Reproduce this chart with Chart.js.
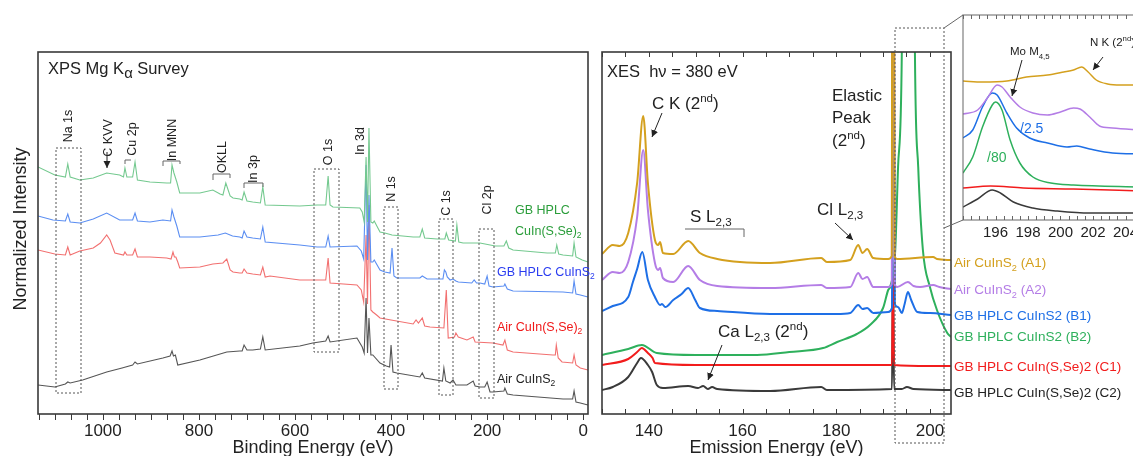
<!DOCTYPE html>
<html>
<head>
<meta charset="utf-8">
<script src="https://cdn.jsdelivr.net/npm/chart.js@4.4.0/dist/chart.umd.min.js"></script>
<style>
html, body { margin: 0; padding: 0; background: #fff; }
#fig { position: relative; width: 1133px; height: 456px; overflow: hidden;
       font-family: "Liberation Sans", Arial, sans-serif; color: #222; }
.pane { position: absolute; }
.t { position: absolute; white-space: nowrap; line-height: 1; transform: translateY(-50%); }
.v { position: absolute; white-space: nowrap; line-height: 1; font-size: 12.5px;
     transform: translate(-50%, -50%) rotate(-90deg); }
sub, sup { font-size: 0.68em; line-height: 0; }
svg { position: absolute; left: 0; top: 0; }
</style>
</head>
<body>
<div id="fig">
  <div class="pane" style="left:0;top:0;width:600px;height:456px"><canvas id="xps"></canvas></div>
  <div class="pane" style="left:595px;top:0;width:365px;height:456px"><canvas id="xes"></canvas></div>
  <div class="pane" style="left:950px;top:0;width:200px;height:250px"><canvas id="inset"></canvas></div>

  <svg width="1133" height="456">
    <defs>
      <marker id="ah" markerWidth="8" markerHeight="8" refX="7" refY="4" orient="auto" markerUnits="userSpaceOnUse">
        <path d="M0,0.5 L7,4 L0,7.5 z" fill="#222"/>
      </marker>
    </defs>
    <g fill="none" stroke="#555" stroke-width="1" stroke-dasharray="2,2">
      <rect x="56" y="148" width="25" height="245"/>
      <rect x="314" y="169" width="25" height="183"/>
      <rect x="384" y="207" width="14" height="182"/>
      <rect x="439" y="219" width="14" height="176"/>
      <rect x="479" y="229" width="15" height="169"/>
      <rect x="895" y="28" width="49" height="415"/>
    </g>
    <g fill="none" stroke="#666" stroke-width="1">
      <path d="M125,164V160H131"/>
      <path d="M163,166V161H180V164"/>
      <path d="M213,180V174H230V178"/>
      <path d="M244,188V183H263V187"/>
      <path d="M685,229H744V237"/>
      <line x1="944" y1="28" x2="963" y2="15"/>
      <line x1="944" y1="228" x2="963" y2="220"/>
    </g>
    <g stroke="#222" stroke-width="1" marker-end="url(#ah)">
      <line x1="107" y1="152" x2="107" y2="168"/>
      <line x1="662" y1="113" x2="652" y2="137"/>
      <line x1="835" y1="223" x2="853" y2="240"/>
      <line x1="722" y1="345" x2="708" y2="380"/>
      <line x1="1022" y1="60" x2="1012" y2="96"/>
      <line x1="1103" y1="57" x2="1093" y2="70"/>
    </g>
  </svg>

  <!-- XPS panel text -->
  <div class="t" style="left:48px;top:68px;font-size:16.5px">XPS Mg K<sub style="font-size:0.9em">α</sub> Survey</div>
  <div class="v" style="left:20px;top:229px;font-size:18px">Normalized Intensity</div>
  <div class="v" style="left:68px;top:126px">Na 1s</div>
  <div class="v" style="left:108px;top:138px">C KVV</div>
  <div class="v" style="left:132px;top:139px">Cu 2p</div>
  <div class="v" style="left:172px;top:140px">In MNN</div>
  <div class="v" style="left:222px;top:157px">OKLL</div>
  <div class="v" style="left:253px;top:169px">In 3p</div>
  <div class="v" style="left:328px;top:152px">O 1s</div>
  <div class="v" style="left:360px;top:141px">In 3d</div>
  <div class="v" style="left:391px;top:189px">N 1s</div>
  <div class="v" style="left:446px;top:203px">C 1s</div>
  <div class="v" style="left:487px;top:200px">Cl 2p</div>
  <div class="t" style="left:515px;top:210px;font-size:12.5px;color:#2a9d3a">GB HPLC</div>
  <div class="t" style="left:515px;top:231px;font-size:12.5px;color:#2a9d3a">CuIn(S,Se)<sub>2</sub></div>
  <div class="t" style="left:497px;top:272px;font-size:12.5px;color:#2a3cf0">GB HPLC CuInS<sub>2</sub></div>
  <div class="t" style="left:497px;top:327px;font-size:12.5px;color:#f01818">Air CuIn(S,Se)<sub>2</sub></div>
  <div class="t" style="left:497px;top:379px;font-size:12.5px;color:#222">Air CuInS<sub>2</sub></div>

  <!-- XES panel text -->
  <div class="t" style="left:607px;top:71px;font-size:16.5px">XES&nbsp; hν = 380 eV</div>
  <div class="t" style="left:652px;top:103px;font-size:17px">C K (2<sup>nd</sup>)</div>
  <div class="t" style="left:832px;top:95px;font-size:17px">Elastic</div>
  <div class="t" style="left:832px;top:117px;font-size:17px">Peak</div>
  <div class="t" style="left:832px;top:140px;font-size:17px">(2<sup>nd</sup>)</div>
  <div class="t" style="left:690px;top:216px;font-size:17px">S L<sub>2,3</sub></div>
  <div class="t" style="left:817px;top:209px;font-size:17px">Cl L<sub>2,3</sub></div>
  <div class="t" style="left:718px;top:331px;font-size:17px">Ca L<sub>2,3</sub> (2<sup>nd</sup>)</div>
  <div class="t" style="left:954px;top:263px;font-size:13.5px;color:#d4a01e">Air CuInS<sub>2</sub> (A1)</div>
  <div class="t" style="left:954px;top:290px;font-size:13.5px;color:#b47de6">Air CuInS<sub>2</sub> (A2)</div>
  <div class="t" style="left:954px;top:316px;font-size:13.5px;color:#1e6fe6">GB HPLC CuInS2 (B1)</div>
  <div class="t" style="left:954px;top:337px;font-size:13.5px;color:#2eb05c">GB HPLC CuInS2 (B2)</div>
  <div class="t" style="left:954px;top:367px;font-size:13.5px;color:#f21c1c">GB HPLC CuIn(S,Se)2 (C1)</div>
  <div class="t" style="left:954px;top:393px;font-size:13.5px;color:#222">GB HPLC CuIn(S,Se)2 (C2)</div>

  <!-- inset text -->
  <div class="t" style="left:1010px;top:52px;font-size:11.5px">Mo M<sub>4,5</sub></div>
  <div class="t" style="left:1090px;top:43px;font-size:11.5px">N K (2<sup>nd</sup>)</div>
  <div class="t" style="left:1020px;top:128px;font-size:14px;color:#1e6fe6">/2.5</div>
  <div class="t" style="left:987px;top:157px;font-size:14px;color:#2eb05c">/80</div>
</div>

<script>
// ---- XPS survey: [binding energy eV, normalized intensity (offset)] ----
const xpsGreen = [[1135,247],[1100,239],[1078,237],[1073,250],[1068,237],[1048,234],[1020,236],[992,241],[965,239],[957,237],[954,246],[950,237],[938,237],[933,252],[928,234],[902,232],[867,231],[859,231],[856,249],[852,241],[846,232],[840,221],[798,221],[771,224],[756,220],[750,219],[744,231],[735,218],[729,216],[715,215],[710,214],[706,222],[700,213],[688,212],[672,211],[667,227],[662,209],[590,208],[554,209],[536,209],[531,238],[527,209],[521,207],[465,206],[460,202],[456,192],[452,257],[449,192],[446,286],[442,192],[438,191],[435,193],[423,182],[413,181],[398,179],[354,177],[340,177],[335,185],[330,176],[304,175],[288,175],[285,181],[280,174],[266,173],[263,189],[259,172],[250,171],[215,171],[183,168],[165,168],[160,173],[155,166],[146,164],[75,161],[58,161],[55,169],[51,160],[42,159],[22,158],[19,171],[15,157],[2,154],[-10,152]];
const xpsBlue = [[1135,198],[1104,194],[1078,193],[1073,200],[1068,192],[1048,191],[1020,195],[992,201],[965,194],[938,194],[933,201],[928,193],[902,192],[875,194],[859,193],[856,204],[852,197],[846,188],[840,177],[798,177],[760,179],[745,181],[730,178],[715,177],[710,176],[706,183],[700,177],[688,176],[672,175],[667,187],[662,172],[590,169],[554,167],[536,167],[531,178],[527,167],[471,168],[462,163],[457,155],[452,249],[449,154],[446,219],[442,152],[438,152],[435,154],[423,144],[413,142],[402,141],[398,166],[394,138],[388,136],[340,136],[335,138],[325,135],[292,135],[289,144],[286,142],[283,137],[277,134],[271,135],[265,133],[260,132],[232,131],[227,134],[222,131],[215,131],[205,130],[200,138],[196,128],[188,127],[165,128],[163,130],[158,125],[146,123],[42,122],[22,121],[19,133],[15,120],[6,119],[-10,117]];
const xpsRed = [[1135,164],[1100,160],[1078,159],[1073,167],[1068,159],[1048,163],[1020,166],[1005,171],[992,179],[985,174],[975,161],[957,159],[954,162],[950,159],[938,159],[933,165],[928,157],[902,157],[867,156],[858,155],[854,162],[851,157],[848,157],[844,152],[840,146],[798,147],[771,150],[750,151],[742,155],[735,144],[729,142],[715,141],[710,141],[706,145],[700,141],[688,140],[672,139],[667,147],[662,137],[652,138],[590,134],[563,134],[536,134],[531,156],[527,131],[471,129],[462,124],[457,112],[452,179],[449,110],[446,209],[442,104],[438,102],[430,99],[423,96],[354,90],[348,94],[343,91],[335,96],[330,88],[319,87],[290,86],[285,124],[281,76],[268,77],[265,81],[260,77],[242,74],[229,77],[225,72],[188,71],[167,69],[163,74],[158,64],[146,62],[63,59],[58,59],[56,69],[52,56],[44,52],[22,51],[19,59],[15,49],[6,46],[-10,44]];
const xpsBlack = [[1135,29],[1100,27],[1078,30],[1073,32],[1068,31],[1042,34],[992,42],[960,46],[938,49],[933,52],[928,50],[875,56],[860,58],[856,63],[853,58],[849,59],[844,49],[798,54],[742,62],[715,63],[710,63],[706,69],[700,64],[688,64],[672,65],[667,77],[662,64],[590,68],[563,71],[536,73],[531,78],[527,72],[471,76],[460,67],[456,61],[452,116],[449,61],[446,96],[442,59],[438,59],[423,51],[410,48],[403,47],[400,69],[396,42],[388,41],[340,37],[335,41],[330,36],[293,33],[290,46],[286,33],[277,31],[271,34],[265,29],[242,29],[229,33],[225,28],[215,27],[205,27],[200,32],[194,22],[188,22],[165,23],[163,26],[158,20],[146,19],[42,15],[22,15],[19,23],[15,12],[6,11],[-10,9]];
const xpsTickLabels = [1000, 800, 600, 400, 200, 0];

// ---- XES: [emission energy eV, intensity (offset)] ----
const xesA1 = [[130,160],[132.3,169],[133.8,168],[135.6,181],[137.5,231],[138.8,298],[139.8,231],[141.3,174],[142.0,169],[142.4,172],[143.0,161],[145.2,160],[148.4,173],[150.9,161],[154.6,155],[165.9,151],[176.8,156],[178,152],[183,154],[184.7,169],[185.6,161],[186.6,165],[187.9,156],[191.1,155],[191.85,158],[192.0,600],[192.3,600],[192.45,158],[193,155],[200.7,157],[201.5,155],[204.5,154]];
const xesA2 = [[130,134],[132.3,142],[133.8,141],[135.6,152],[137.5,197],[138.8,264],[139.8,204],[141.3,151],[142.0,144],[142.4,146],[143.0,136],[145.2,132],[148.4,148],[150.9,134],[154.6,128],[165.9,126],[176.8,129],[178,126],[183,127],[184.7,141],[185.6,135],[186.6,137],[187.9,127],[191.1,127],[191.85,130],[192.0,600],[192.3,600],[192.45,130],[193,127],[195.3,132],[196.5,128],[197.9,127],[200.7,129],[202,127],[204.5,125]];
const xesB1 = [[130,103],[132.3,108],[135.6,117],[136.6,132],[137.5,145],[138.6,162],[139.8,134],[141.3,117],[142.4,109],[142.8,110],[143.5,107],[145.2,114],[147,120],[148.4,126],[149.9,114],[150.9,106],[154.6,103],[165.9,100],[180,100],[183,101],[184.7,109],[185.6,105],[186.6,106],[187.9,101],[191.1,102],[191.9,106],[192.05,400],[192.3,400],[192.5,110],[193.2,107],[194.0,101],[194.6,110],[195.3,122],[196,114],[197.3,102],[200,101],[204.5,99]];
const xesB2 = [[130,59],[135.6,65],[138.5,69],[141.7,61],[150,59],[163.1,59],[170,62],[177.2,66],[180.2,72],[184.4,80],[187.2,89],[190.0,106],[191.1,124],[191.5,127],[192.6,164],[193.2,247],[194.0,361],[195.4,1500],[196.8,361],[197.5,247],[198.5,164],[200.0,127],[201.5,104],[203.7,81],[204.5,77]];
const xesC1 = [[130,49],[135.6,55],[137.5,62],[138.5,66],[139.8,61],[140.8,56],[141.3,51],[150,49],[165.9,49],[180,49],[191.9,49],[192.1,139],[192.35,49],[200,48],[204.5,48]];
const xesC2 = [[130,24],[132.3,27],[135.6,37],[137.5,51],[138.3,56],[139.8,49],[140.7,42],[141.7,29],[143.0,26],[148.4,28],[150.5,26],[151.6,28],[152.6,25],[153.5,27],[154.6,25],[165.9,23],[176.8,27],[178,24],[191.9,25],[192.1,141],[192.35,25],[194,25],[195.1,27],[196.5,25],[204.5,24]];
const xesTickLabels = [140, 160, 180, 200];

// ---- inset (194-205 eV, B1 /2.5, B2 /80) ----
const insetA1 = [[194.0,139],[195.2,138],[196.7,139],[197.9,143],[199.2,145],[200.2,148],[200.8,150],[201.3,153],[201.7,148],[202.2,140],[202.9,136],[203.7,135],[205,135]];
const insetA2 = [[194.0,106],[194.9,110],[195.5,122],[196.1,135],[196.4,133],[196.9,123],[197.5,113],[198.3,107],[199.2,105],[200.0,108],[200.8,112],[201.2,111],[201.8,103],[202.4,94],[203.2,92],[205,90]];
const insetB1 = [[194.0,82],[194.6,90],[195.2,113],[195.8,127],[196.1,125],[196.7,107],[197.3,92],[198.1,82],[199.2,77],[200.4,73],[201.0,74],[201.8,71],[203.2,67],[205,66]];
const insetB2 = [[194.0,47],[194.6,63],[195.2,93],[195.8,115],[196.0,118],[196.4,110],[196.9,80],[197.5,57],[198.3,43],[199.4,37],[200.8,35],[205,33]];
const insetC1 = [[194.0,32],[195.7,34],[197.7,32],[200.8,31],[205,29]];
const insetC2 = [[194.0,13],[194.9,21],[195.8,30],[196.3,27],[197.1,18],[198.3,12],[199.8,9],[201.8,7],[205,7]];
const insetTickLabels = [196, 198, 200, 202, 204];

const colors = {
    xpsGreen: "#74c98f", xpsBlue: "#5b8ef2", xpsRed: "#f27070", xpsBlack: "#555555",
    a1: "#d4a01e", a2: "#b47de6", b1: "#1e6fe6", b2: "#2eb05c", c1: "#f21c1c", c2: "#3a3a3a"
};

Chart.defaults.font.family = '"Liberation Sans", Arial, sans-serif';
Chart.defaults.color = "#222";

// frame box + tick marks (inward or outward, optional top row)
const frameTicks = {
    id: "frameTicks",
    afterDraw(chart, args, opts) {
        const { ctx, chartArea: a } = chart;
        const x = chart.scales.x;
        ctx.save();
        ctx.strokeStyle = opts.color;
        ctx.lineWidth = opts.width;
        ctx.strokeRect(a.left, a.top, a.right - a.left, a.bottom - a.top);
        ctx.lineWidth = 1;
        ctx.beginPath();
        x.ticks.forEach(t => {
            const px = Math.round(x.getPixelForValue(t.value)) + 0.5;
            if (px < a.left - 1 || px > a.right + 1) return;
            if (opts.inward) { ctx.moveTo(px, a.bottom); ctx.lineTo(px, a.bottom - opts.len); }
            else { ctx.moveTo(px, a.bottom); ctx.lineTo(px, a.bottom + opts.len); }
            if (opts.top) { ctx.moveTo(px, a.top); ctx.lineTo(px, a.top + opts.len); }
        });
        ctx.stroke();
        ctx.restore();
    }
};

function series(pairs, color, width, smooth) {
    return {
        data: pairs.map(p => ({ x: p[0], y: p[1] })),
        borderColor: color,
        borderWidth: width,
        pointRadius: 0,
        tension: smooth ? 0.4 : 0,
        cubicInterpolationMode: smooth ? "monotone" : "default",
        fill: false
    };
}

function makeChart(id, cfg) {
    return new Chart(document.getElementById(id), {
        type: "line",
        data: { datasets: cfg.datasets },
        options: {
            responsive: true,
            maintainAspectRatio: false,
            animation: false,
            events: [],
            layout: { padding: cfg.padding },
            plugins: { legend: { display: false }, tooltip: { enabled: false }, frameTicks: cfg.frame },
            scales: {
                x: {
                    type: "linear",
                    min: cfg.xMin,
                    max: cfg.xMax,
                    reverse: !!cfg.reverse,
                    grid: { display: false, drawTicks: false },
                    border: { display: false },
                    afterBuildTicks: axis => { axis.ticks = cfg.ticks.map(v => ({ value: v })); },
                    afterFit: axis => { axis.height = cfg.axisHeight; },
                    ticks: {
                        autoSkip: false, maxRotation: 0, minRotation: 0,
                        padding: cfg.labelPad,
                        font: { size: cfg.tickSize },
                        color: "#222",
                        callback: v => cfg.labels.some(l => Math.abs(l - v) < 1e-6) ? String(Math.round(v)) : ""
                    },
                    title: cfg.title
                        ? { display: true, text: cfg.title, font: { size: 18, lineHeight: 0.85 }, color: "#222", padding: 0 }
                        : { display: false }
                },
                y: { display: false, min: 0, max: cfg.yMax }
            }
        },
        plugins: [frameTicks]
    });
}

// tick positions
const xpsTicks = [];
for (let i = 0; i * 200 / 6 <= 1135; i++) xpsTicks.push(i * 200 / 6);
const xesTicks = [];
for (let v = 130; v <= 200; v += 5) xesTicks.push(v);
const insetTicks = [];
for (let i = 0; i <= 22; i++) insetTicks.push(194 + i * 0.5);

// 🎯 XPS survey
makeChart("xps", {
    datasets: [
        series(xpsGreen, colors.xpsGreen, 1.1, false),
        series(xpsBlue, colors.xpsBlue, 1.1, false),
        series(xpsRed, colors.xpsRed, 1.1, false),
        series(xpsBlack, colors.xpsBlack, 1.1, false)
    ],
    padding: { left: 38, top: 52, right: 12, bottom: 0 },
    xMin: -10, xMax: 1135, reverse: true, yMax: 362,
    ticks: xpsTicks, labels: xpsTickLabels,
    axisHeight: 42, labelPad: 7, tickSize: 17,
    title: "Binding Energy (eV)",
    frame: { color: "#3a3a3a", width: 1.6, len: 6, inward: false, top: false }
});

// 🎯 XES
makeChart("xes", {
    datasets: [
        series(xesA1, colors.a1, 2, true),
        series(xesA2, colors.a2, 2, true),
        series(xesB1, colors.b1, 2, true),
        series(xesB2, colors.b2, 2, true),
        series(xesC1, colors.c1, 2, true),
        series(xesC2, colors.c2, 2, true)
    ],
    padding: { left: 7, top: 52, right: 9, bottom: 0 },
    xMin: 130, xMax: 204.5, yMax: 362,
    ticks: xesTicks, labels: xesTickLabels,
    axisHeight: 42, labelPad: 7, tickSize: 17,
    title: "Emission Energy (eV)",
    frame: { color: "#3a3a3a", width: 1.6, len: 5, inward: true, top: true }
});

// 🎯 inset zoom
makeChart("inset", {
    datasets: [
        series(insetA1, colors.a1, 1.5, true),
        series(insetA2, colors.a2, 1.5, true),
        series(insetB1, colors.b1, 1.5, true),
        series(insetB2, colors.b2, 1.5, true),
        series(insetC1, colors.c1, 1.5, true),
        series(insetC2, colors.c2, 1.5, true)
    ],
    padding: { left: 13, top: 15, right: 8.25, bottom: 0 },
    xMin: 194, xMax: 205, yMax: 205,
    ticks: insetTicks, labels: insetTickLabels,
    axisHeight: 30, labelPad: 4, tickSize: 15,
    title: null,
    frame: { color: "#666", width: 1, len: 4, inward: true, top: true }
});
</script>
</body>
</html>
